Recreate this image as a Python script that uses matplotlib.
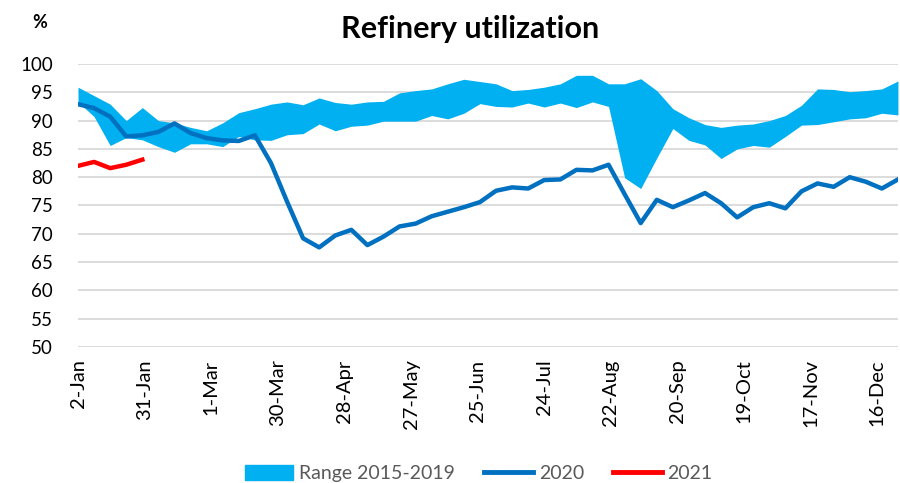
import pandas as pd
import matplotlib.pyplot as plt
from matplotlib.patches import Patch
from matplotlib.lines import Line2D

plt.rcParams['font.family'] = ['Lato', 'DejaVu Sans']

# weekly values, starting 2-Jan
range_high = [95.9, 94.4, 92.9, 90.0, 92.3, 90.0, 89.6, 88.8, 88.2, 89.6,
              91.4, 92.1, 92.9, 93.3, 92.8, 94.0, 93.2, 92.9, 93.3, 93.4,
              94.9, 95.3, 95.6, 96.5, 97.3, 96.9, 96.5, 95.3, 95.5, 95.9,
              96.5, 98.0, 98.0, 96.5, 96.5, 97.4, 95.3, 92.1, 90.5, 89.3,
              88.8, 89.2, 89.4, 90.0, 90.9, 92.7, 95.6, 95.5, 95.1, 95.3,
              95.6, 97.0]
range_low = [93.3, 90.7, 85.6, 87.0, 86.6, 85.4, 84.4, 85.9, 85.9, 85.4,
             87.2, 86.6, 86.5, 87.5, 87.7, 89.4, 88.2, 89.0, 89.2, 89.9,
             89.9, 89.9, 90.9, 90.3, 91.3, 93.0, 92.5, 92.4, 93.1, 92.4,
             93.1, 92.3, 93.3, 92.5, 79.9, 78.0, 83.4, 88.6, 86.5, 85.7,
             83.3, 85.0, 85.6, 85.3, 87.2, 89.2, 89.3, 89.8, 90.3, 90.5,
             91.3, 91.0]
util_2020 = [92.9, 92.2, 90.7, 87.2, 87.4, 88.0, 89.5, 87.8, 86.9, 86.5,
             86.4, 87.4, 82.5, 75.7, 69.2, 67.6, 69.7, 70.7, 68.0, 69.5,
             71.3, 71.8, 73.1, 73.9, 74.7, 75.6, 77.6, 78.2, 78.0, 79.5,
             79.6, 81.3, 81.2, 82.2, 77.0, 71.9, 76.0, 74.7, 75.9, 77.2,
             75.4, 72.9, 74.7, 75.4, 74.5, 77.5, 78.9, 78.3, 80.0, 79.2,
             78.0, 79.6]
util_2021 = [82.0, 82.7, 81.6, 82.2, 83.1]

weeks = pd.date_range('2021-01-02', periods=len(util_2020), freq='7D')
ticks = pd.date_range('2021-01-02', periods=13, freq='29D')

fig = plt.figure(figsize=(9, 4.83), dpi=100)
ax = fig.add_axes([0.0867, 0.2816, 0.911, 0.5859])

ax.fill_between(weeks, range_low, range_high, color='#00B0F0', linewidth=0, zorder=2)
ax.plot(weeks, util_2020, color='#0070C0', linewidth=3.2, zorder=3)
ax.plot(weeks[:len(util_2021)], util_2021, color='#FF0000', linewidth=3.2, zorder=4)

ax.set_ylim(50, 100)
ax.set_yticks(range(50, 101, 5))
ax.set_xlim(weeks[0], weeks[-1])
ax.set_xticks(ticks)
ax.set_xticklabels([d.strftime('%-d-%b') for d in ticks], rotation=90)
ax.tick_params(axis='both', length=0, colors='#000000')
ax.tick_params(axis='y', labelsize=13.5, pad=18)
ax.tick_params(axis='x', labelsize=14.5, pad=9)
ax.grid(axis='y', color='#D9D9D9', linewidth=1.3, zorder=0)
for s in ax.spines.values():
    s.set_visible(False)

fig.text(0.522, 0.94, 'Refinery utilization', ha='center', va='center',
         fontsize=22, fontweight='bold')
fig.text(0.044, 0.953, '%', ha='center', va='center', fontsize=13, fontweight='bold')

handles = [Patch(color='#00B0F0'),
           Line2D([0], [0], color='#0070C0', linewidth=3.5),
           Line2D([0], [0], color='#FF0000', linewidth=3.5)]
fig.legend(handles, ['Range 2015-2019', '2020', '2021'], loc='center',
           bbox_to_anchor=(0.532, 0.02), ncol=3, frameon=False, fontsize=14,
           handlelength=2.5, handleheight=0.8, handletextpad=0.3,
           columnspacing=1.5, labelcolor='#595959')

fig.savefig('out.png', dpi=100)
